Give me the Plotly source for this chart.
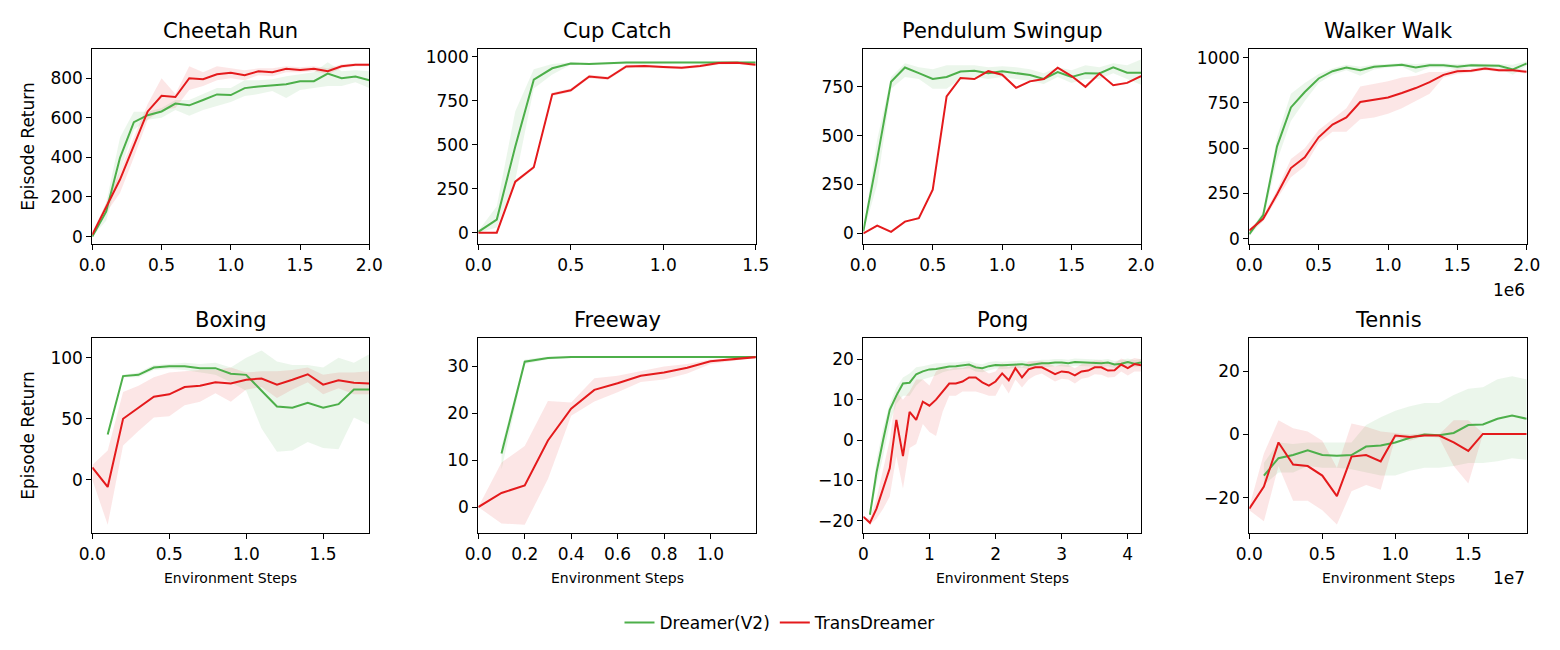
import plotly.graph_objects as go
from plotly.subplots import make_subplots

GREEN = "#4daf4a"
RED = "#e41a1c"
GREEN_FILL = "rgba(77,175,74,0.11)"
RED_FILL = "rgba(228,26,28,0.11)"

# ---- data ----
steps_20 = [0.0, 0.1, 0.2, 0.3, 0.4, 0.5, 0.6, 0.7, 0.8, 0.9, 1.0,
            1.1, 1.2, 1.3, 1.4, 1.5, 1.6, 1.7, 1.8, 1.9, 2.0]
steps_15 = [0.0, 0.1, 0.2, 0.3, 0.4, 0.5, 0.6, 0.7, 0.8, 0.9, 1.0,
            1.1, 1.2, 1.3, 1.4, 1.5]
steps_18 = [0.0, 0.1, 0.2, 0.3, 0.4, 0.5, 0.6, 0.7, 0.8, 0.9, 1.0,
            1.1, 1.2, 1.3, 1.4, 1.5, 1.6, 1.7, 1.8]
steps_12 = [0.0, 0.1, 0.2, 0.3, 0.4, 0.5, 0.6, 0.7, 0.8, 0.9, 1.0, 1.1, 1.2]
steps_19 = [0.0, 0.1, 0.2, 0.3, 0.4, 0.5, 0.6, 0.7, 0.8, 0.9, 1.0,
            1.1, 1.2, 1.3, 1.4, 1.5, 1.6, 1.7, 1.8, 1.9]
steps_42 = [0.0, 0.1, 0.2, 0.3, 0.4, 0.5, 0.6, 0.7, 0.8, 0.9, 1.0,
            1.1, 1.2, 1.3, 1.4, 1.5, 1.6, 1.7, 1.8, 1.9, 2.0,
            2.1, 2.2, 2.3, 2.4, 2.5, 2.6, 2.7, 2.8, 2.9, 3.0,
            3.1, 3.2, 3.3, 3.4, 3.5, 3.6, 3.7, 3.8, 3.9, 4.0, 4.1, 4.2]

# Cheetah Run
cheetah_dreamer = [0, 126, 398, 578, 613, 632, 672, 663, 690, 718, 715,
                   750, 758, 765, 770, 785, 785, 823, 800, 808, 790]
cheetah_dreamer_lo = [0, 80, 330, 540, 590, 600, 640, 610, 640, 660, 680,
                      710, 720, 735, 700, 740, 750, 760, 760, 780, 750]
cheetah_dreamer_hi = [0, 170, 500, 630, 630, 650, 690, 690, 720, 750, 750,
                      790, 790, 795, 810, 820, 830, 880, 835, 840, 835]
cheetah_trans = [10, 150, 288, 460, 632, 711, 705, 800, 795, 820, 828,
                 815, 835, 830, 848, 842, 848, 835, 860, 868, 868]
cheetah_trans_lo = [0, 120, 220, 400, 590, 640, 650, 740, 760, 790, 800,
                    790, 815, 810, 830, 830, 835, 820, 850, 860, 860]
cheetah_trans_hi = [20, 170, 330, 500, 670, 800, 720, 860, 830, 860, 850,
                    840, 850, 850, 860, 855, 860, 850, 870, 875, 875]

# Cup Catch
cup_dreamer = [5, 75, 490, 870, 935, 962, 960, 965, 968, 968, 968,
               970, 970, 970, 970, 968]
cup_dreamer_lo = [0, 30, 300, 820, 900, 955, 955, 960, 962, 962, 962,
                  964, 964, 964, 964, 962]
cup_dreamer_hi = [10, 150, 690, 930, 960, 970, 966, 970, 973, 973, 973,
                  975, 975, 975, 975, 974]
cup_trans = [0, 0, 290, 372, 787, 810, 888, 878, 945, 948, 942,
             938, 948, 965, 967, 955]
cup_trans_lo = [0, -5, 280, 362, 777, 800, 878, 868, 935, 940, 934,
                930, 940, 957, 960, 947]
cup_trans_hi = [0, 5, 300, 382, 797, 820, 898, 888, 955, 956, 950,
                946, 956, 973, 974, 963]

# Pendulum Swingup
pend_dreamer = [10, 381, 776, 849, 820, 790, 800, 828, 832, 820, 830,
                820, 810, 790, 825, 800, 820, 818, 850, 822, 822]
pend_dreamer_lo = [0, 250, 740, 800, 790, 740, 740, 790, 800, 790, 800,
                   790, 780, 765, 800, 770, 790, 790, 820, 790, 760]
pend_dreamer_hi = [20, 480, 800, 870, 850, 840, 860, 860, 860, 850, 855,
                   850, 840, 820, 850, 835, 860, 850, 870, 860, 890]
pend_trans = [0, 40, 8, 60, 78, 224, 701, 795, 790, 830, 812,
              745, 778, 790, 848, 805, 750, 818, 758, 770, 805]
pend_trans_lo = [0, 35, 3, 55, 73, 219, 696, 790, 785, 825, 807,
                 740, 773, 785, 843, 800, 745, 813, 753, 765, 800]
pend_trans_hi = [0, 45, 13, 65, 83, 229, 706, 800, 795, 835, 817,
                 750, 783, 795, 853, 810, 755, 823, 763, 775, 810]

# Walker Walk
walker_dreamer = [25, 130, 510, 725, 810, 885, 925, 945, 930, 950, 955,
                  960, 945, 958, 958, 950, 958, 958, 955, 935, 968]
walker_dreamer_lo = [15, 100, 430, 650, 760, 860, 905, 930, 900, 935, 945,
                     950, 915, 945, 945, 935, 948, 945, 940, 905, 955]
walker_dreamer_hi = [35, 150, 560, 800, 860, 910, 940, 960, 950, 962, 965,
                     970, 965, 970, 968, 965, 968, 968, 965, 960, 980]
walker_trans = [45, 110, 245, 390, 450, 560, 630, 670, 755, 768, 780,
                805, 832, 865, 905, 925, 928, 940, 930, 930, 922]
walker_trans_lo = [35, 95, 220, 340, 400, 530, 590, 590, 660, 670, 690,
                   720, 760, 800, 890, 910, 918, 930, 920, 920, 912]
walker_trans_hi = [55, 125, 270, 440, 500, 600, 660, 720, 840, 855, 870,
                   890, 900, 920, 920, 940, 940, 950, 940, 940, 932]

# Boxing
boxing_dreamer = [None, 37, 85, 86, 92, 93, 93, 91.5, 91.5, 87, 86,
                  73, 60, 59, 63, 59, 62, 74, 74]
boxing_dreamer_lo = [None, 37, 84, 84, 90, 91, 90, 88, 86, 80, 73,
                     42, 23, 24, 31, 26, 25, 51, 45]
boxing_dreamer_hi = [None, 37, 86, 88, 94, 95, 96, 95, 96, 92, 100,
                     106, 97, 94, 94, 92, 100, 96, 103]
boxing_trans = [10, -6, 50, 59, 68, 70, 76, 77, 80, 79, 82,
                83, 78, 82, 86.5, 78, 81.5, 79.5, 79]
boxing_trans_lo = [0, -37, 28, 40, 51, 52, 61, 64, 71, 64, 74,
                   76, 67, 74, 80, 70, 75, 70, 70]
boxing_trans_hi = [12, 24, 72, 77, 84, 88, 89, 90, 90, 92, 88,
                   89, 89, 90, 92, 86, 88, 88, 89]

# Freeway
freeway_dreamer = [None, 11.4, 31, 31.8, 32, 32, 32, 32, 32, 32, 32, 32, 32]
freeway_dreamer_lo = [None, 8, 30.5, 31.5, 31.8, 31.8, 31.8, 31.8, 31.8, 31.8, 31.8, 31.8, 31.8]
freeway_dreamer_hi = [None, 13, 31.5, 32.1, 32.2, 32.2, 32.2, 32.2, 32.2, 32.2, 32.2, 32.2, 32.2]
freeway_trans = [0, 3, 4.6, 14.2, 21, 25, 26.4, 28, 28.7, 29.7, 31.1, 31.5, 32]
freeway_trans_lo = [0, -3.5, -3.8, 6, 19.5, 22.5, 24.5, 26.7, 27.2, 28.5, 30.5, 31.2, 32]
freeway_trans_hi = [0, 9.5, 13, 22.6, 22.3, 27.5, 28, 29, 30, 30.5, 31.5, 31.8, 32]

# Pong
pong_dreamer = [None, -18.5, -8, 0, 7.5, 11, 14, 14.2, 16.3, 17, 17.5,
                17.6, 17.9, 18.2, 18.3, 18.5, 18.7, 18, 17.8, 18.3, 18.6,
                18.5, 18.6, 18.7, 18.8, 18.5, 18.8, 19, 19, 19.2, 19.2,
                19, 19.3, 19.2, 19.1, 19.1, 19, 19.2, 18.7, 18.9, 19.3, 18.9, 19.2]
pong_dreamer_lo = [None, -19, -11, -4, 4, 9, 11, 11, 13.5, 15, 15.5,
                   16, 16.8, 17.2, 17.4, 17.6, 17.8, 17, 16.8, 17.3, 17.7,
                   17.6, 17.7, 17.8, 17.9, 17.6, 17.9, 18.1, 18.1, 18.3, 18.3,
                   18.1, 18.4, 18.3, 18.2, 18.2, 18.1, 18.3, 17.8, 18, 18.4, 18, 18.3]
pong_dreamer_hi = [None, -18, -5, 3, 9, 13, 15.5, 16.5, 18, 18.3, 18.7,
                   19, 19, 19.2, 19.2, 19.4, 19.6, 19, 18.8, 19.3, 19.5,
                   19.4, 19.5, 19.6, 19.7, 19.4, 19.7, 19.9, 19.9, 20.1, 20.1,
                   19.9, 20.2, 20.1, 20, 20, 19.9, 20.1, 19.6, 19.8, 20.2, 19.8, 20.1]
pong_trans = [-19, -20.5, -17, -12, -7, 5, -4, 7, 5, 9.5, 8.5,
              10, 12, 14, 14, 14.5, 15.5, 15.5, 14.3, 13.5, 14.5,
              16.5, 14.8, 17.8, 15.5, 17.5, 18, 18, 17.2, 16.3, 17,
              16.8, 16, 17, 17.2, 18, 18, 17.2, 17.3, 18.7, 17.8, 18.8, 18.5]
pong_trans_lo = [-19, -21, -19.5, -17, -14, -4, -12, -2, -1, 4, 2,
                 1, 7, 11, 11, 12, 12, 12, 11.5, 11, 11,
                 14, 11.5, 15, 13, 15, 16, 16.5, 15.5, 14.5, 15.2,
                 15, 14, 15.2, 15.5, 16.3, 16.2, 15.5, 15.6, 17, 16, 17, 17]
pong_trans_hi = [-19, -19.5, -14.5, -7, 0, 12, 10, 12, 15, 15, 13.5,
                 17, 18, 17.5, 18, 17.8, 18.5, 18.5, 17.5, 16.5, 17,
                 19, 18, 19, 18, 19.5, 19.5, 19.5, 19, 18.2, 18.8,
                 18.6, 17.8, 18.8, 19, 19.7, 19.7, 19, 19, 20.2, 19.6, 20.3, 20]

# Tennis
tennis_dreamer = [None, -13, -7.5, -6.5, -5, -6.5, -6.7, -6.5, -3.8, -3.5, -2.5,
                  -1, 0, -0.2, 0.5, 3, 3.2, 5, 6, 5]
tennis_dreamer_lo = [None, -16, -12, -12, -10, -10.5, -10.5, -11, -12, -13, -13,
                     -11.5, -10.5, -10.5, -10, -9, -9, -8.5, -7.5, -8]
tennis_dreamer_hi = [None, -9, -2.5, -3, -2.5, -2.5, -2.5, -2.5, 3, 5.5, 7.5,
                     9, 10, 10, 12.5, 14.5, 15, 17.5, 18.5, 17.5]
tennis_trans = [-23.5, -16.5, -2.5, -9.5, -10, -13, -19.5, -7, -6.5, -8.5, -0.3,
                -0.8, -0.3, -0.3, -2.5, -5.2, 0.2, 0.2, 0.2, 0.2]
tennis_trans_lo = [-24, -27.5, -10, -21, -21, -24, -28.5, -18, -16, -17.5, -1,
                   -2, -0.5, -1, -10, -15.5, 0, 0.1, 0.1, 0.1]
tennis_trans_hi = [-23, -6, 4.5, 2, 1, -2, -10.5, 3.5, 2.5, 1, 0.5,
                   0, 0.5, 0, 4.5, 4.5, 0.5, 0.3, 0.3, 0.3]

panels = [
    ("Cheetah Run", steps_20, cheetah_dreamer, cheetah_dreamer_lo, cheetah_dreamer_hi,
     cheetah_trans, cheetah_trans_lo, cheetah_trans_hi),
    ("Cup Catch", steps_15, cup_dreamer, cup_dreamer_lo, cup_dreamer_hi,
     cup_trans, cup_trans_lo, cup_trans_hi),
    ("Pendulum Swingup", steps_20, pend_dreamer, pend_dreamer_lo, pend_dreamer_hi,
     pend_trans, pend_trans_lo, pend_trans_hi),
    ("Walker Walk", steps_20, walker_dreamer, walker_dreamer_lo, walker_dreamer_hi,
     walker_trans, walker_trans_lo, walker_trans_hi),
    ("Boxing", steps_18, boxing_dreamer, boxing_dreamer_lo, boxing_dreamer_hi,
     boxing_trans, boxing_trans_lo, boxing_trans_hi),
    ("Freeway", steps_12, freeway_dreamer, freeway_dreamer_lo, freeway_dreamer_hi,
     freeway_trans, freeway_trans_lo, freeway_trans_hi),
    ("Pong", steps_42, pong_dreamer, pong_dreamer_lo, pong_dreamer_hi,
     pong_trans, pong_trans_lo, pong_trans_hi),
    ("Tennis", steps_19, tennis_dreamer, tennis_dreamer_lo, tennis_dreamer_hi,
     tennis_trans, tennis_trans_lo, tennis_trans_hi),
]

# axis settings per panel: x range, x tick step, x format, y range, y tick step
x_ranges = [[0, 2], [0, 1.5], [0, 2], [0, 2], [0, 1.8], [0, 1.195], [0, 4.2], [0, 1.9]]
x_dticks = [0.5, 0.5, 0.5, 0.5, 0.5, 0.2, 1, 0.5]
x_formats = [".1f"] * 6 + ["d", ".1f"]
y_ranges = [[-39, 946], [-66, 1043], [-56, 942], [-31, 1046],
            [-44, 116], [-5.6, 36], [-23.1, 25.2], [-31.3, 30.5]]
y_dticks = [200, 250, 250, 250, 50, 10, 10, 20]

# the page puts the figure 8px in from the top-left corner, so layout is
# given in window pixels and converted here
W, H, OFF = 1560, 650, 8


def px_x(p):
    return (p - OFF) / W


def px_y(p):
    return 1 - (p - OFF) / H


col_px = [(92.3, 369.3), (478.3, 755.7), (863.3, 1141.0), (1249.3, 1526.7)]
row_px = [(49.3, 244.3), (338.3, 533.3)]
x_doms = [[px_x(a), px_x(b)] for a, b in col_px]
y_doms = [[px_y(b), px_y(a)] for a, b in row_px]
title_y = [px_y(31), px_y(320)]

fig = make_subplots(rows=2, cols=4)


def band(xs, lo, hi):
    pts = [(x, l, h) for x, l, h in zip(xs, lo, hi) if l is not None]
    bx = [p[0] for p in pts] + [p[0] for p in pts][::-1]
    by = [p[2] for p in pts] + [p[1] for p in pts][::-1]
    return bx, by


for i, (name, xs, dm, dlo, dhi, tm, tlo, thi) in enumerate(panels):
    r, c = i // 4 + 1, i % 4 + 1
    bx, by = band(xs, dlo, dhi)
    fig.add_trace(go.Scatter(x=bx, y=by, fill="toself", fillcolor=GREEN_FILL,
                             line=dict(width=0), mode="lines", showlegend=False,
                             hoverinfo="skip"), row=r, col=c)
    bx, by = band(xs, tlo, thi)
    fig.add_trace(go.Scatter(x=bx, y=by, fill="toself", fillcolor=RED_FILL,
                             line=dict(width=0), mode="lines", showlegend=False,
                             hoverinfo="skip"), row=r, col=c)
    fig.add_trace(go.Scatter(x=xs, y=dm, mode="lines", name="Dreamer(V2)",
                             line=dict(color=GREEN, width=2), showlegend=(i == 0),
                             connectgaps=False), row=r, col=c)
    fig.add_trace(go.Scatter(x=xs, y=tm, mode="lines", name="TransDreamer",
                             line=dict(color=RED, width=2), showlegend=(i == 0)),
                  row=r, col=c)

    fig.update_xaxes(domain=x_doms[c - 1], range=x_ranges[i], dtick=x_dticks[i],
                     tick0=0, tickformat=x_formats[i], row=r, col=c)
    fig.update_yaxes(domain=y_doms[r - 1], range=y_ranges[i], dtick=y_dticks[i],
                     tick0=0, row=r, col=c)

    # panel title
    fig.add_annotation(text=name, xref="paper", yref="paper",
                       x=sum(x_doms[c - 1]) / 2, y=title_y[r - 1],
                       xanchor="center", yanchor="middle", showarrow=False,
                       font=dict(size=21, color="black"))
    if r == 2:
        fig.add_annotation(text="Environment Steps", xref="paper", yref="paper",
                           x=sum(x_doms[c - 1]) / 2, y=px_y(578),
                           xanchor="center", yanchor="middle", showarrow=False,
                           font=dict(size=14, color="black"))

axis_style = dict(showline=True, mirror=True, linecolor="black", linewidth=1,
                  ticks="outside", ticklen=5, tickcolor="black", showgrid=False,
                  zeroline=False, automargin=False,
                  tickfont=dict(size=17, color="black"))
fig.update_xaxes(**axis_style)
fig.update_yaxes(**axis_style)

# y labels
for a, b in row_px:
    fig.add_annotation(text="Episode Return", xref="paper", yref="paper",
                       x=px_x(28), y=px_y((a + b) / 2), textangle=-90,
                       xanchor="center", yanchor="middle", showarrow=False,
                       font=dict(size=17, color="black"))

# offset labels
fig.add_annotation(text="1e6", xref="paper", yref="paper", x=px_x(1527), y=px_y(290),
                   xanchor="right", yanchor="middle", showarrow=False,
                   font=dict(size=17, color="black"))
fig.add_annotation(text="1e7", xref="paper", yref="paper", x=px_x(1527), y=px_y(578),
                   xanchor="right", yanchor="middle", showarrow=False,
                   font=dict(size=17, color="black"))

fig.update_layout(
    width=W, height=H,
    margin=dict(l=0, r=0, t=0, b=0),
    paper_bgcolor="white", plot_bgcolor="white",
    font=dict(family="DejaVu Sans", color="black"),
    legend=dict(orientation="h", x=px_x(780), y=px_y(623), xanchor="center",
                yanchor="middle", font=dict(size=17), itemwidth=30,
                bgcolor="rgba(0,0,0,0)"),
)

fig.write_html("out.html")
